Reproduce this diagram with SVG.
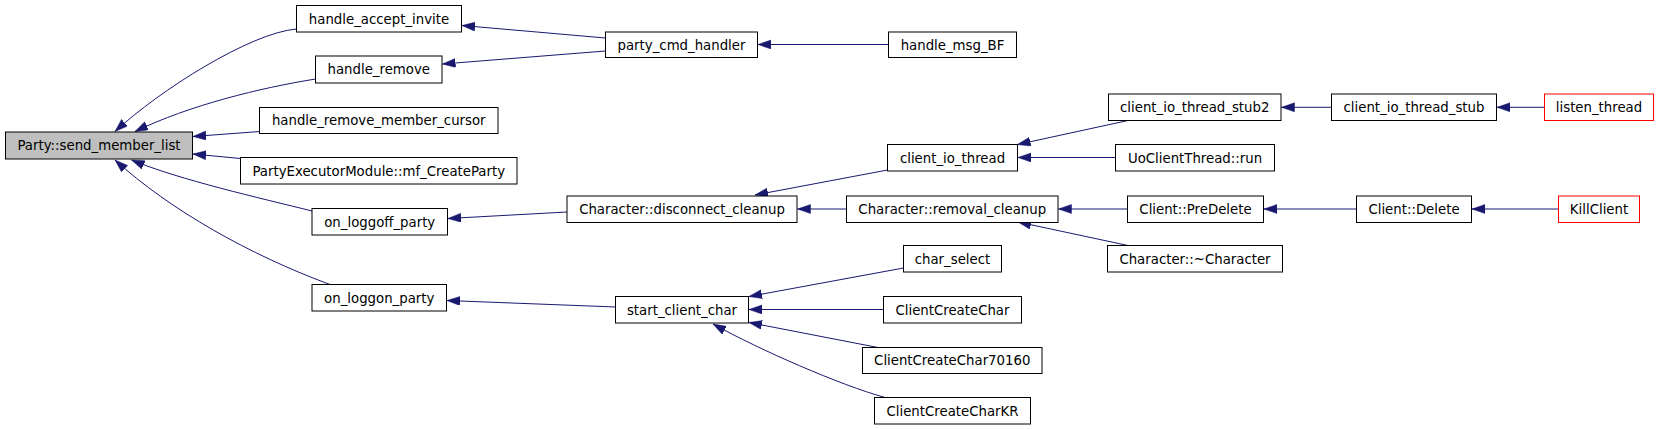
<svg xmlns="http://www.w3.org/2000/svg" width="1659" height="429" viewBox="0 0 1659 429">
<defs>
<style>
.n rect{fill:#ffffff;stroke:#000000;stroke-width:1}
.n.g rect{fill:#bfbfbf}
.n.r rect{stroke:#ff0000}
.n text{font-family:"DejaVu Sans","Liberation Sans",sans-serif;font-size:13.3px;fill:#000000;text-anchor:middle}
#edges path{fill:none;stroke:#191970;stroke-width:1;marker-end:url(#arr)}
</style>
<marker id="arr" markerUnits="userSpaceOnUse" markerWidth="14" markerHeight="10" refX="13" refY="4.5" orient="auto">
<path d="M0,0 L13,4.5 L0,9 z" fill="#191970" stroke="#191970" stroke-width="0.5"/>
</marker>
</defs>
<rect x="0" y="0" width="1659" height="429" fill="#ffffff"/>
<g id="edges">
<path d="M296.5,29 C250,33 160,90 115,131.5"/>
<path d="M315.5,79 C260,88 190,105 135,131.5"/>
<path d="M259.5,131.5 L193,136.5"/>
<path d="M240.5,158.5 L193,154"/>
<path d="M312,211 C260,198 180,180 131.5,160"/>
<path d="M330,284.5 C250,255 170,210 115,160"/>
<path d="M605.5,38 L462,25.5"/>
<path d="M605.5,51 L442.5,64"/>
<path d="M888.5,44.5 L758,44.5"/>
<path d="M567,212 L448,218.5"/>
<path d="M615.5,307 L447,300.5"/>
<path d="M887.5,170 L755,195"/>
<path d="M846.5,209 L797.5,209"/>
<path d="M1128,120.5 L1017.5,144.5"/>
<path d="M1115.5,157.5 L1018,157.5"/>
<path d="M1331.5,107.3 L1281.5,107.3"/>
<path d="M1544.5,107.3 L1497,107.3"/>
<path d="M1127.5,209 L1058.5,209"/>
<path d="M1356.5,209 L1264,209"/>
<path d="M1558.5,209 L1472,209"/>
<path d="M1128,245.5 L1018,222"/>
<path d="M903.5,268 L749,296.5"/>
<path d="M883.5,309.5 L749,309.5"/>
<path d="M878,347.5 L749,322.5"/>
<path d="M885,397.5 C840,385 760,350 713,324"/>
</g>
<g id="n_party_send_member_list" class="n g"><rect x="5.5" y="132" width="187" height="27"/><text x="99" y="150">Party::send_member_list</text></g>
<g id="n_handle_accept_invite" class="n"><rect x="296.5" y="5.5" width="165" height="26.5"/><text x="379" y="23.5">handle_accept_invite</text></g>
<g id="n_handle_remove" class="n"><rect x="315.5" y="56" width="126.5" height="27"/><text x="378.75" y="74">handle_remove</text></g>
<g id="n_handle_remove_member_cursor" class="n"><rect x="259.5" y="107.5" width="238.5" height="26"/><text x="378.75" y="125">handle_remove_member_cursor</text></g>
<g id="n_mf_CreateParty" class="n"><rect x="240.5" y="157.5" width="276.5" height="26.5"/><text x="378.75" y="175.5">PartyExecutorModule::mf_CreateParty</text></g>
<g id="n_on_loggoff_party" class="n"><rect x="312" y="208.5" width="135.5" height="26.5"/><text x="379.75" y="226.5">on_loggoff_party</text></g>
<g id="n_on_loggon_party" class="n"><rect x="312" y="284.5" width="134.5" height="26.5"/><text x="379.25" y="302.5">on_loggon_party</text></g>
<g id="n_party_cmd_handler" class="n"><rect x="605.5" y="32" width="152" height="25.5"/><text x="681.5" y="49.5">party_cmd_handler</text></g>
<g id="n_handle_msg_BF" class="n"><rect x="888.5" y="32" width="128" height="25.5"/><text x="952.5" y="49.5">handle_msg_BF</text></g>
<g id="n_disconnect_cleanup" class="n"><rect x="567" y="196" width="230" height="26.5"/><text x="682" y="214">Character::disconnect_cleanup</text></g>
<g id="n_client_io_thread" class="n"><rect x="887.5" y="144.5" width="130" height="26.5"/><text x="952.5" y="162.5">client_io_thread</text></g>
<g id="n_removal_cleanup" class="n"><rect x="846.5" y="196" width="211.5" height="26.5"/><text x="952.25" y="214">Character::removal_cleanup</text></g>
<g id="n_start_client_char" class="n"><rect x="615.5" y="296.5" width="133" height="26.5"/><text x="682" y="314.5">start_client_char</text></g>
<g id="n_char_select" class="n"><rect x="903.5" y="245.5" width="98" height="26.5"/><text x="952.5" y="263.5">char_select</text></g>
<g id="n_ClientCreateChar" class="n"><rect x="883.5" y="296.5" width="138" height="26.5"/><text x="952.5" y="314.5">ClientCreateChar</text></g>
<g id="n_ClientCreateChar70160" class="n"><rect x="862.5" y="347.5" width="179.5" height="26"/><text x="952.25" y="365">ClientCreateChar70160</text></g>
<g id="n_ClientCreateCharKR" class="n"><rect x="874.5" y="397.5" width="156" height="26.5"/><text x="952.5" y="415.5">ClientCreateCharKR</text></g>
<g id="n_client_io_thread_stub2" class="n"><rect x="1108.5" y="94" width="172.5" height="26.5"/><text x="1194.75" y="112">client_io_thread_stub2</text></g>
<g id="n_UoClientThread_run" class="n"><rect x="1115.5" y="144.5" width="159" height="26.5"/><text x="1195" y="162.5">UoClientThread::run</text></g>
<g id="n_Client_PreDelete" class="n"><rect x="1127.5" y="196" width="136" height="26.5"/><text x="1195.5" y="214">Client::PreDelete</text></g>
<g id="n_Character_dtor" class="n"><rect x="1107.5" y="245.5" width="175" height="26.5"/><text x="1195" y="263.5">Character::~Character</text></g>
<g id="n_client_io_thread_stub" class="n"><rect x="1331.5" y="94" width="165" height="26.5"/><text x="1414" y="112">client_io_thread_stub</text></g>
<g id="n_Client_Delete" class="n"><rect x="1356.5" y="196" width="115" height="26.5"/><text x="1414" y="214">Client::Delete</text></g>
<g id="n_listen_thread" class="n r"><rect x="1544.5" y="94" width="109" height="26.5"/><text x="1599" y="112">listen_thread</text></g>
<g id="n_KillClient" class="n r"><rect x="1558.5" y="196" width="81" height="26.5"/><text x="1599" y="214">KillClient</text></g>
</svg>
